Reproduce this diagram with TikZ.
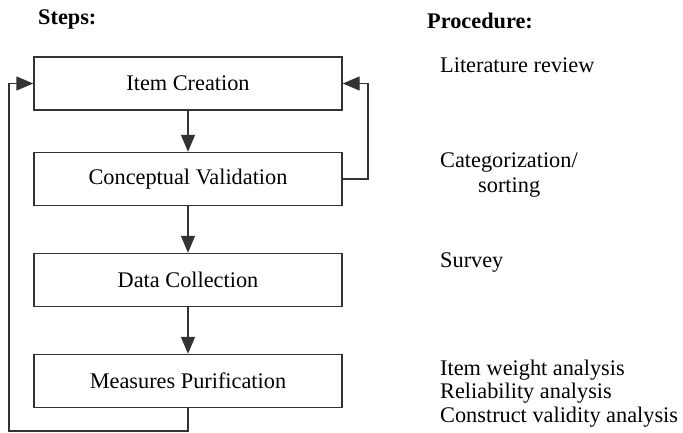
\documentclass[tikz,border=0pt]{standalone}
\usepackage{fontspec}
\setmainfont{Liberation Serif}
\usetikzlibrary{arrows.meta}
\definecolor{linegray}{HTML}{333333}
\begin{document}
\begin{tikzpicture}[x=1pt,y=-1pt,
  stepbox/.style={draw=linegray, line width=1.4pt, minimum width=308pt,
    minimum height=53pt, inner sep=0pt, font=\fontsize{22.3}{26}\selectfont},
  proc/.style={anchor=west, inner sep=0pt, font=\fontsize{22.3}{26}\selectfont},
  head/.style={anchor=west, inner sep=0pt, font=\bfseries\fontsize{22.3}{26}\selectfont},
  flow/.style={draw=linegray, line width=1.4pt,
    -{Triangle[length=17pt,width=14pt]}}]
\useasboundingbox (0,0) rectangle (683,433);

% column headings
\node[head] (hsteps) at (38,19) {Steps:};
\node[head] (hproc) at (427,21) {Procedure:};

% the four steps
\node[stepbox] (ic) at (188,83.5) {Item Creation};
\node[stepbox] (cv) at (188,179) {Conceptual Validation};
\node[stepbox] (dc) at (188,280) {Data Collection};
\node[stepbox] (mp) at (188,381) {Measures Purification};

% procedures
\node[proc] (p1) at (440,65) {Literature review};
\node[proc] (p2a) at (440,163) {Categorization/};
\node[proc] (p2b) at (478,188) {sorting};
\node[proc] (p3) at (440,263) {Survey};
\node[proc] (p4a) at (440,370) {Item weight analysis};
\node[proc] (p4b) at (440,393) {Reliability analysis};
\node[proc] (p4c) at (440,417) {Construct validity analysis};

% main flow
\draw[flow] (ic) -- (cv);
\draw[flow] (cv) -- (dc);
\draw[flow] (dc) -- (mp);

% feedback loops
\coordinate (rloop) at (368,179);
\draw[flow] (cv.east) -- (rloop) |- (ic.east);
\coordinate (lloop) at (9,431);
\draw[flow] (mp.south) |- (lloop) |- (ic.west);
\end{tikzpicture}
\end{document}
